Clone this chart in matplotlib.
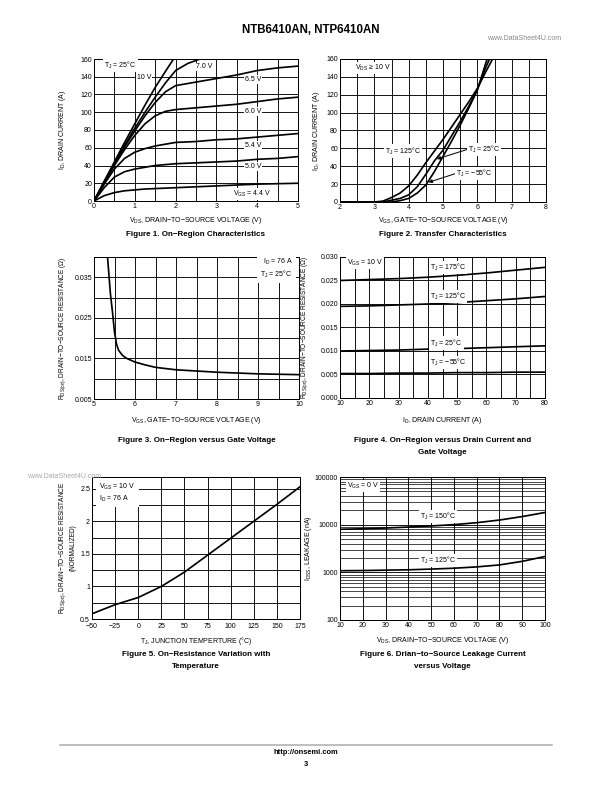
import numpy as np
import matplotlib
matplotlib.use("Agg")
import matplotlib.pyplot as plt
from matplotlib.ticker import MultipleLocator, FixedLocator, LogLocator, NullFormatter, FormatStrFormatter

plt.rcParams['font.family'] = ['Liberation Sans', 'DejaVu Sans']
plt.rcParams['mathtext.fontset'] = 'custom'
plt.rcParams['mathtext.rm'] = 'Liberation Sans'
plt.rcParams['axes.unicode_minus'] = True

# ---- Figure 1: on-region characteristics (VDS vs ID for several VGS)
f1_vds_10v = [0, 0.25, 0.5, 0.75, 1.0, 1.25, 1.5, 1.75, 1.95]
f1_id_10v = [0, 22, 44, 66, 87, 108, 128, 146, 160]
f1_vds_7v = [0, 0.25, 0.5, 0.75, 1.0, 1.25, 1.5, 1.75, 2.0, 2.3, 2.6]
f1_id_7v = [0, 22, 43, 63, 82, 100, 117, 133, 147, 155, 160]
f1_vds = [0, 0.25, 0.5, 0.75, 1.0, 1.25, 1.5, 1.75, 2.0, 2.5, 3.0, 3.5, 4.0, 4.5, 5.0]
f1_id_65v = [0, 21, 42, 61, 79, 96, 111, 123, 130, 134, 138, 142, 147, 150, 152]
f1_id_60v = [0, 20, 40, 58, 74, 87, 96, 101, 103, 105, 107, 109, 112, 115, 117]
f1_id_54v = [0, 19, 36, 48, 55, 59, 62, 64, 66, 67, 69, 70, 72, 74, 76]
f1_id_50v = [0, 15, 27, 33, 36, 38, 40, 41, 42, 43, 44, 45, 47, 48, 50]
f1_id_44v = [0, 6, 9.5, 11.5, 12.5, 13.5, 14, 14.5, 15, 16, 17, 18, 19, 19.5, 20]

# ---- Figure 2: transfer characteristics
f2_vgs = [2, 3, 3.25, 3.5, 3.75, 4, 4.25, 4.5, 4.75, 5, 5.25, 5.5, 5.75, 6, 6.25, 6.5]
f2_id_125 = [0, 0, 1, 5, 10, 18, 30, 44, 57, 70, 84, 98, 112, 127, 146, 164]
f2_id_25 = [0, 0, 0, 2, 4, 8, 17, 31, 46, 58, 74, 90, 107, 126, 151, 172]
f2_id_m55 = [0, 0, 0, 0, 1.5, 4, 10, 19, 34, 51, 68, 86, 105, 125, 156, 182]

# ---- Figure 3: RDS(on) vs VGS
f3_vgs = [5.33, 5.40, 5.45, 5.50, 5.55, 5.60, 5.70, 5.80, 6.0, 6.25, 6.5, 7.0, 7.5, 8.0, 8.5, 9.0, 9.5, 10.0]
f3_rds = [0.040, 0.031, 0.0265, 0.0215, 0.0185, 0.0170, 0.0157, 0.0150, 0.0141, 0.0134,
          0.0128, 0.0122, 0.0119, 0.0116, 0.0114, 0.0112, 0.0111, 0.0110]

# ---- Figure 4: RDS(on) vs ID
f4_id = [10, 20, 30, 40, 50, 60, 70, 80]
f4_r_175 = [0.0250, 0.0252, 0.0254, 0.0257, 0.0261, 0.0266, 0.0272, 0.0278]
f4_r_125 = [0.0195, 0.0196, 0.0198, 0.0200, 0.0203, 0.0207, 0.0211, 0.0216]
f4_r_25 = [0.0100, 0.0101, 0.0102, 0.0104, 0.0105, 0.0107, 0.0109, 0.0111]
f4_r_m55 = [0.0052, 0.0052, 0.0053, 0.0053, 0.0054, 0.0054, 0.0055, 0.0055]

# ---- Figure 5: normalized RDS(on) vs temperature
f5_tj = [-50, -25, 0, 25, 50, 75, 100, 125, 150, 175]
f5_rnorm = [0.58, 0.72, 0.83, 1.0, 1.22, 1.48, 1.74, 2.0, 2.26, 2.53]

# ---- Figure 6: leakage vs VDS
f6_vds = [10, 20, 30, 40, 50, 60, 70, 80, 90, 100]
f6_idss_150 = [8000, 8200, 8500, 8900, 9400, 10000, 11000, 12500, 14800, 18000]
f6_idss_125 = [1080, 1090, 1110, 1130, 1170, 1220, 1300, 1430, 1700, 2150]

W, H = 612, 792
fig = plt.figure(figsize=(8.5, 11), dpi=72)

TS = 7     # tick label size
LS = 7     # axis label size
CS = 8     # caption size
LW = 1.7   # curve width
box = dict(facecolor='white', edgecolor='none', pad=1.0)


def px_ax(l, t, r, b):
    return fig.add_axes([l / W, 1 - b / H, (r - l) / W, (b - t) / H])


def ftext(x, y, s, **kw):
    fig.text(x / W, 1 - y / H, s, **kw)


def style(ax):
    ax.grid(True, which='both', color='black', lw=0.9)
    ax.set_axisbelow(True)
    ax.tick_params(which='both', length=0, labelsize=TS, pad=2)
    for sp in ax.spines.values():
        sp.set_linewidth(1.0)


# ================= Figure 1
l, t, r, b = 94, 59, 298, 201
ax1 = px_ax(l, t, r, b)
ax1.plot(f1_vds_10v, f1_id_10v, 'k', lw=LW)
ax1.plot(f1_vds_7v, f1_id_7v, 'k', lw=LW)
for y in (f1_id_65v, f1_id_60v, f1_id_54v, f1_id_50v, f1_id_44v):
    ax1.plot(f1_vds, y, 'k', lw=LW)
ax1.set_xlim(0, 5)
ax1.set_ylim(0, 160)
ax1.xaxis.set_major_locator(MultipleLocator(1))
ax1.xaxis.set_minor_locator(MultipleLocator(0.5))
ax1.yaxis.set_major_locator(MultipleLocator(20))
style(ax1)
ax1.text(0.25, 153, r'T$_\mathregular{J}$ = 25°C', fontsize=LS, va='center', bbox=box)
ax1.text(1.05, 139, '10 V', fontsize=LS, va='center', bbox=box)
ax1.text(2.5, 151, '7.0 V', fontsize=LS, va='center', bbox=box)
ax1.text(3.7, 137, '6.5 V', fontsize=LS, va='center', bbox=box)
ax1.text(3.7, 101, '6.0 V', fontsize=LS, va='center', bbox=box)
ax1.text(3.7, 62, '5.4 V', fontsize=LS, va='center', bbox=box)
ax1.text(3.7, 39, '5.0 V', fontsize=LS, va='center', bbox=box)
ax1.text(3.4, 8, r'V$_\mathregular{GS}$ = 4.4 V', fontsize=LS, va='center', bbox=box)
ftext((l + r) / 2, 221, r'V$_\mathregular{DS}$, DRAIN−TO−SOURCE VOLTAGE (V)', fontsize=LS, ha='center', va='center')
ftext((l + r) / 2, 235, 'Figure 1. On−Region Characteristics', fontsize=CS, weight='bold', ha='center', va='center')
ftext(63, (t + b) / 2, r'I$_\mathregular{D}$, DRAIN CURRENT (A)', fontsize=LS, rotation=90, ha='center', va='center')

# ================= Figure 2
l, t, r, b = 340, 59, 546, 202
ax2 = px_ax(l, t, r, b)
ax2.plot(f2_vgs, f2_id_125, 'k', lw=LW)
ax2.plot(f2_vgs, f2_id_25, 'k', lw=LW)
ax2.plot(f2_vgs, f2_id_m55, 'k', lw=LW)
ax2.set_xlim(2, 8)
ax2.set_ylim(0, 160)
ax2.xaxis.set_major_locator(MultipleLocator(1))
ax2.xaxis.set_minor_locator(MultipleLocator(0.5))
ax2.yaxis.set_major_locator(MultipleLocator(20))
style(ax2)
ax2.text(2.45, 150, r'V$_\mathregular{DS}$ ≥ 10 V', fontsize=LS, va='center', bbox=box)
ax2.text(3.3, 57, r'T$_\mathregular{J}$ = 125°C', fontsize=LS, va='center', bbox=box)
arrow = dict(arrowstyle='-|>', color='black', lw=1.0, mutation_scale=7, shrinkA=0, shrinkB=0, relpos=(0, 0.5))
ax2.annotate(r'T$_\mathregular{J}$ = 25°C', xy=(4.82, 48), xytext=(5.72, 59), fontsize=LS,
             va='center', bbox=box, arrowprops=arrow)
ax2.annotate(r'T$_\mathregular{J}$ = −55°C', xy=(4.58, 22), xytext=(5.38, 32), fontsize=LS,
             va='center', bbox=box, arrowprops=arrow)
ftext((l + r) / 2, 221, r'V$_\mathregular{GS}$, GATE−TO−SOURCE VOLTAGE (V)', fontsize=LS, ha='center', va='center')
ftext((l + r) / 2, 235, 'Figure 2. Transfer Characteristics', fontsize=CS, weight='bold', ha='center', va='center')
ftext(316, (t + b) / 2, r'I$_\mathregular{D}$, DRAIN CURRENT (A)', fontsize=LS, rotation=90, ha='center', va='center')

# ================= Figure 3
l, t, r, b = 94, 257, 299, 399
ax3 = px_ax(l, t, r, b)
ax3.plot(f3_vgs, f3_rds, 'k', lw=LW)
ax3.set_xlim(5, 10)
ax3.set_ylim(0.005, 0.04)
ax3.xaxis.set_major_locator(MultipleLocator(1))
ax3.xaxis.set_minor_locator(MultipleLocator(0.5))
ax3.yaxis.set_major_locator(FixedLocator([0.005, 0.015, 0.025, 0.035]))
ax3.yaxis.set_minor_locator(FixedLocator([0.01, 0.02, 0.03, 0.04]))
ax3.set_yticklabels(['0.005', '0.015', '0.025', '0.035'])
style(ax3)
ax3.text(9.85, 0.0372, 'I$_\\mathregular{D}$ = 76 A\nT$_\\mathregular{J}$ = 25°C', fontsize=LS,
         ha='right', va='center', linespacing=1.3, bbox=dict(facecolor='white', edgecolor='none', pad=3))
ftext((l + r) / 2, 421, r'V$_\mathregular{GS}$, GATE−TO−SOURCE VOLTAGE (V)', fontsize=LS, ha='center', va='center')
ftext((l + r) / 2, 440, 'Figure 3. On−Region versus Gate Voltage', fontsize=CS, weight='bold', ha='center', va='center')
ftext(63, (t + b) / 2, r'R$_\mathregular{DS(on)}$, DRAIN−TO−SOURCE RESISTANCE (Ω)', fontsize=LS - 0.5,
      rotation=90, ha='center', va='center')

# ================= Figure 4
l, t, r, b = 340, 257, 545, 398
ax4 = px_ax(l, t, r, b)
ax4.plot(f4_id, f4_r_175, 'k', lw=LW)
ax4.plot(f4_id, f4_r_125, 'k', lw=LW)
ax4.plot(f4_id, f4_r_25, 'k', lw=LW)
ax4.plot(f4_id, f4_r_m55, 'k', lw=LW)
ax4.set_xlim(10, 80)
ax4.set_ylim(0, 0.03)
ax4.xaxis.set_major_locator(MultipleLocator(10))
ax4.xaxis.set_minor_locator(MultipleLocator(5))
ax4.yaxis.set_major_locator(MultipleLocator(0.005))
ax4.yaxis.set_major_formatter(FormatStrFormatter('%.3f'))
style(ax4)
ax4.text(12.3, 0.0287, r'V$_\mathregular{GS}$ = 10 V', fontsize=LS, va='center', bbox=box)
ax4.text(40.8, 0.0277, r'T$_\mathregular{J}$ = 175°C', fontsize=LS, va='center', bbox=box)
ax4.text(40.8, 0.0216, r'T$_\mathregular{J}$ = 125°C', fontsize=LS, va='center', bbox=box)
ax4.text(40.8, 0.0117, r'T$_\mathregular{J}$ = 25°C', fontsize=LS, va='center', bbox=box)
ax4.text(40.8, 0.0075, r'T$_\mathregular{J}$ = −55°C', fontsize=LS, va='center', bbox=box)
ftext((l + r) / 2, 421, r'I$_\mathregular{D}$, DRAIN CURRENT (A)', fontsize=LS, ha='center', va='center')
ftext((l + r) / 2, 440, 'Figure 4. On−Region versus Drain Current and', fontsize=CS, weight='bold', ha='center', va='center')
ftext((l + r) / 2, 452, 'Gate Voltage', fontsize=CS, weight='bold', ha='center', va='center')
ftext(305, (t + b) / 2, r'R$_\mathregular{DS(on)}$, DRAIN−TO−SOURCE RESISTANCE (Ω)', fontsize=LS - 0.5,
      rotation=90, ha='center', va='center')

# ================= Figure 5
l, t, r, b = 92, 477, 300, 619
ax5 = px_ax(l, t, r, b)
ax5.plot(f5_tj, f5_rnorm, 'k', lw=LW)
ax5.set_xlim(-50, 175)
ax5.set_ylim(0.5, 2.68)
ax5.xaxis.set_major_locator(MultipleLocator(25))
ax5.yaxis.set_major_locator(FixedLocator([0.5, 1, 1.5, 2, 2.5]))
ax5.yaxis.set_minor_locator(FixedLocator([0.75, 1.25, 1.75, 2.25]))
ax5.set_yticklabels(['0.5', '1', '1.5', '2', '2.5'])
style(ax5)
ax5.tick_params(axis='x', pad=4)
ax5.text(-42, 2.44, 'V$_\\mathregular{GS}$ = 10 V\nI$_\\mathregular{D}$ = 76 A', fontsize=LS,
         va='center', linespacing=1.3, bbox=dict(facecolor='white', edgecolor='none', pad=3))
ftext((l + r) / 2, 641, r'T$_\mathregular{J}$, JUNCTION TEMPERTURE (°C)', fontsize=LS, ha='center', va='center')
ftext((l + r) / 2, 654, 'Figure 5. On−Resistance Variation with', fontsize=CS, weight='bold', ha='center', va='center')
ftext((l + r) / 2, 666, 'Temperature', fontsize=CS, weight='bold', ha='center', va='center')
ftext(63, (t + b) / 2, r'R$_\mathregular{DS(on)}$, DRAIN−TO−SOURCE RESISTANCE', fontsize=LS - 0.5,
      rotation=90, ha='center', va='center')
ftext(73, (t + b) / 2, '(NORMALIZED)', fontsize=LS - 0.5, rotation=90, ha='center', va='center')

# ================= Figure 6
l, t, r, b = 340, 477, 545, 620
ax6 = px_ax(l, t, r, b)
ax6.plot(f6_vds, f6_idss_150, 'k', lw=LW)
ax6.plot(f6_vds, f6_idss_125, 'k', lw=LW)
ax6.set_yscale('log')
ax6.set_xlim(10, 100)
ax6.set_ylim(100, 100000)
ax6.xaxis.set_major_locator(MultipleLocator(10))
ax6.yaxis.set_major_locator(FixedLocator([100, 1000, 10000, 100000]))
ax6.yaxis.set_minor_locator(LogLocator(base=10, subs=np.arange(2, 10)))
ax6.yaxis.set_minor_formatter(NullFormatter())
ax6.set_yticklabels(['100', '1000', '10000', '100000'])
style(ax6)
ax6.grid(True, which='minor', color='black', lw=0.7)
ax6.text(13, 65000, r'V$_\mathregular{GS}$ = 0 V', fontsize=LS, va='center', bbox=box)
ax6.text(45, 15000, r'T$_\mathregular{J}$ = 150°C', fontsize=LS, va='center', bbox=box)
ax6.text(45, 1800, r'T$_\mathregular{J}$ = 125°C', fontsize=LS, va='center', bbox=box)
ftext((l + r) / 2, 641, r'V$_\mathregular{DS}$, DRAIN−TO−SOURCE VOLTAGE (V)', fontsize=LS, ha='center', va='center')
ftext((l + r) / 2, 654, 'Figure 6. Drian−to−Source Leakage Current', fontsize=CS, weight='bold', ha='center', va='center')
ftext((l + r) / 2, 666, 'versus Voltage', fontsize=CS, weight='bold', ha='center', va='center')
ftext(309, (t + b) / 2, r'I$_\mathregular{DSS}$, LEAKAGE (nA)', fontsize=LS, rotation=90, ha='center', va='center')

# ================= page furniture
ftext(311, 30, 'NTB6410AN, NTP6410AN', fontsize=11.5, weight='bold', ha='center', va='center')
ftext(524, 38, 'www.DataSheet4U.com', fontsize=7, color='#888888', ha='center', va='center')
ftext(64, 476, 'www.DataSheet4U.com', fontsize=7, color='#aaaaaa', ha='center', va='center')
fig.add_artist(plt.Line2D([60 / W, 552 / W], [1 - 745 / H, 1 - 745 / H], color='#aaaaaa', lw=1.5))
ftext(306, 753, 'http://onsemi.com', fontsize=7.5, weight='bold', ha='center', va='center')
ftext(306, 764, '3', fontsize=7.5, weight='bold', ha='center', va='center')

fig.savefig('out.png', dpi=72)
